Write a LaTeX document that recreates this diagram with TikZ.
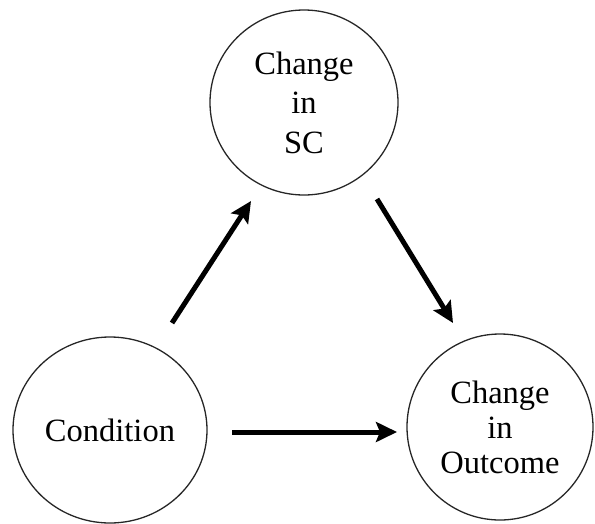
\documentclass[tikz,border=0pt]{standalone}
\usepackage{fontspec}
\setmainfont{Liberation Serif}
\usetikzlibrary{shapes.geometric,arrows.meta}
\begin{document}
\begin{tikzpicture}[x=1pt,y=-1pt,
  bubble/.style={draw=black!85, line width=1.3pt, ellipse, inner sep=0pt, align=center,
    font=\fontsize{32.5}{37}\selectfont},
  conn/.style={line width=5pt, -{Stealth[length=21pt,width=20pt,inset=4pt]}}]
\useasboundingbox (0,0) rectangle (595,523);
\node[bubble, minimum width=188pt, minimum height=185pt, font=\fontsize{32.5}{39.5}\selectfont] (sc) at (304,102.5) {Change\\in\\SC};
\node[bubble, minimum width=194pt, minimum height=186pt] (cond) at (110,430) {Condition};
\node[bubble, minimum width=186pt, minimum height=186pt, font=\fontsize{32.5}{35}\selectfont] (out) at (500,427) {Change\\in\\Outcome};
\coordinate (a1s) at (172,323);
\coordinate (a1e) at (251,201);
\coordinate (a2s) at (377,199);
\coordinate (a2e) at (453,323);
\coordinate (a3s) at (232,432);
\coordinate (a3e) at (397,432);
\draw[conn] (a1s) -- (a1e);
\draw[conn] (a2s) -- (a2e);
\draw[conn] (a3s) -- (a3e);
\end{tikzpicture}
\end{document}
